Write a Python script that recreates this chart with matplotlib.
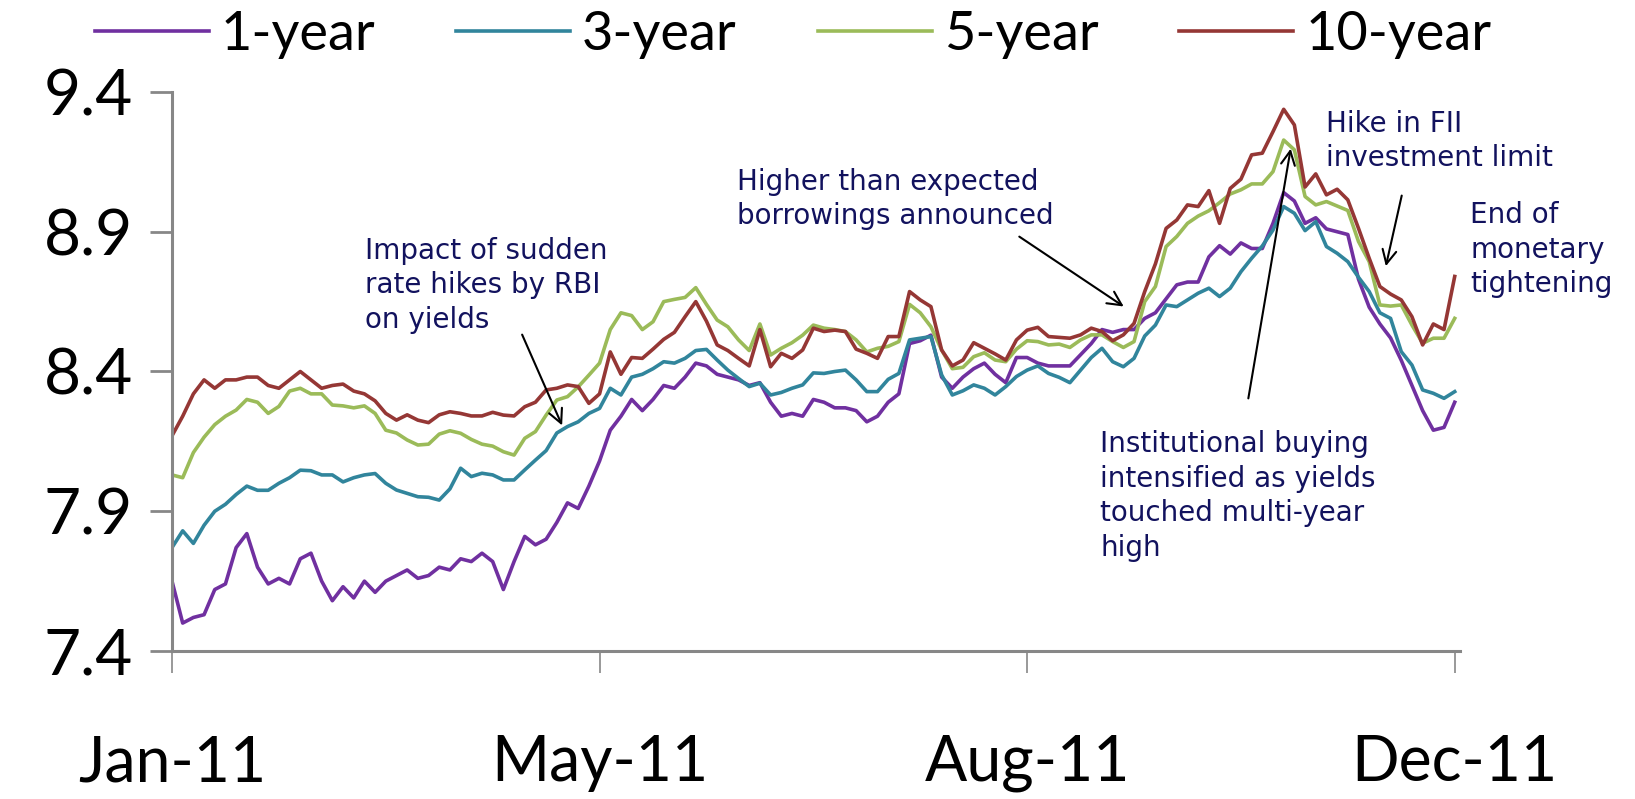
import numpy as np
import matplotlib.pyplot as plt

# trading-day index (every 2nd day), Jan-11 .. Dec-11
days = np.arange(0, 241, 2)

one_year = [7.65, 7.50, 7.52, 7.53, 7.62, 7.64, 7.77, 7.82, 7.70, 7.64,
            7.66, 7.64, 7.73, 7.75, 7.65, 7.58, 7.63, 7.59, 7.65, 7.61,
            7.65, 7.67, 7.69, 7.66, 7.67, 7.70, 7.69, 7.73, 7.72, 7.75,
            7.72, 7.62, 7.72, 7.81, 7.78, 7.80, 7.86, 7.93, 7.91, 7.99,
            8.08, 8.19, 8.24, 8.30, 8.26, 8.30, 8.35, 8.34, 8.38, 8.43,
            8.42, 8.39, 8.38, 8.37, 8.35, 8.36, 8.29, 8.24, 8.25, 8.24,
            8.30, 8.29, 8.27, 8.27, 8.26, 8.22, 8.24, 8.29, 8.32, 8.50,
            8.51, 8.53, 8.38, 8.34, 8.38, 8.41, 8.43, 8.39, 8.36, 8.45,
            8.45, 8.43, 8.42, 8.42, 8.42, 8.46, 8.50, 8.55, 8.54, 8.55,
            8.55, 8.59, 8.61, 8.66, 8.71, 8.72, 8.72, 8.81, 8.85, 8.82,
            8.86, 8.84, 8.84, 8.93, 9.04, 9.01, 8.93, 8.95, 8.91, 8.90,
            8.89, 8.73, 8.63, 8.57, 8.52, 8.44, 8.35, 8.26, 8.19, 8.20,
            8.29]

three_year = [7.77, 7.83, 7.785, 7.85, 7.90, 7.925, 7.96, 7.99, 7.975, 7.975,
              8.00, 8.02, 8.047, 8.045, 8.03, 8.03, 8.005, 8.02, 8.03, 8.035,
              8.00, 7.976, 7.964, 7.952, 7.95, 7.94, 7.98, 8.054, 8.024, 8.036,
              8.03, 8.012, 8.012, 8.048, 8.083, 8.117, 8.18, 8.203, 8.22, 8.25,
              8.268, 8.34, 8.316, 8.38, 8.39, 8.41, 8.435, 8.43, 8.447, 8.475,
              8.479, 8.441, 8.405, 8.375, 8.346, 8.358, 8.316, 8.325, 8.34, 8.352,
              8.395, 8.393, 8.40, 8.405, 8.37, 8.328, 8.328, 8.372, 8.393, 8.513,
              8.519, 8.525, 8.388, 8.316, 8.331, 8.352, 8.34, 8.316, 8.346, 8.382,
              8.405, 8.42, 8.393, 8.379, 8.36, 8.405, 8.45, 8.483, 8.435, 8.417,
              8.447, 8.527, 8.566, 8.638, 8.632, 8.656, 8.68, 8.698, 8.668, 8.698,
              8.757, 8.805, 8.849, 8.906, 8.99, 8.966, 8.904, 8.936, 8.847, 8.823,
              8.793, 8.737, 8.686, 8.61, 8.59, 8.471, 8.423, 8.334, 8.322, 8.304,
              8.328]

five_year = [8.03, 8.02, 8.11, 8.165, 8.21, 8.24, 8.262, 8.30, 8.29, 8.25,
             8.275, 8.33, 8.34, 8.32, 8.32, 8.28, 8.277, 8.27, 8.277, 8.25,
             8.19, 8.18, 8.155, 8.137, 8.14, 8.176, 8.188, 8.179, 8.157, 8.14,
             8.133, 8.113, 8.101, 8.161, 8.185, 8.244, 8.298, 8.31, 8.345, 8.387,
             8.43, 8.55, 8.61, 8.60, 8.55, 8.578, 8.65, 8.658, 8.665, 8.70,
             8.64, 8.584, 8.56, 8.513, 8.475, 8.57, 8.459, 8.483, 8.503, 8.53,
             8.566, 8.555, 8.55, 8.543, 8.513, 8.47, 8.483, 8.49, 8.507, 8.64,
             8.61, 8.56, 8.477, 8.41, 8.415, 8.453, 8.467, 8.441, 8.435, 8.48,
             8.51, 8.507, 8.495, 8.498, 8.486, 8.513, 8.531, 8.531, 8.507, 8.486,
             8.507, 8.65, 8.704, 8.847, 8.883, 8.93, 8.956, 8.975, 9.004, 9.035,
             9.05, 9.071, 9.071, 9.115, 9.228, 9.193, 9.026, 8.996, 9.008, 8.992,
             8.976, 8.865, 8.793, 8.638, 8.634, 8.638, 8.566, 8.501, 8.519, 8.519,
             8.59]

ten_year = [8.17, 8.24, 8.32, 8.37, 8.34, 8.37, 8.37, 8.38, 8.38, 8.35,
            8.34, 8.37, 8.40, 8.37, 8.34, 8.35, 8.355, 8.33, 8.32, 8.295,
            8.25, 8.226, 8.245, 8.226, 8.217, 8.245, 8.256, 8.25, 8.241, 8.241,
            8.254, 8.244, 8.241, 8.274, 8.29, 8.334, 8.34, 8.352, 8.346, 8.286,
            8.32, 8.47, 8.39, 8.45, 8.447, 8.48, 8.515, 8.54, 8.596, 8.65,
            8.58, 8.495, 8.475, 8.447, 8.42, 8.55, 8.417, 8.465, 8.447, 8.477,
            8.555, 8.543, 8.548, 8.543, 8.48, 8.465, 8.447, 8.525, 8.525, 8.686,
            8.656, 8.632, 8.477, 8.42, 8.441, 8.503, 8.483, 8.463, 8.441, 8.513,
            8.548, 8.558, 8.525, 8.522, 8.519, 8.531, 8.555, 8.543, 8.51, 8.531,
            8.572, 8.686, 8.785, 8.912, 8.942, 8.996, 8.99, 9.047, 8.93, 9.055,
            9.088, 9.175, 9.181, 9.258, 9.338, 9.282, 9.06, 9.107, 9.032, 9.052,
            9.014, 8.912, 8.805, 8.704, 8.677, 8.656, 8.596, 8.495, 8.57, 8.55,
            8.74]

series_names = ["1-year", "3-year", "5-year", "10-year"]
colors = ["#7030A0", "#31859C", "#9BBB59", "#953735"]

tick_pos = [0, 80, 160, 240]
tick_labels = ["Jan-11", "May-11", "Aug-11", "Dec-11"]
y_ticks = [7.4, 7.9, 8.4, 8.9, 9.4]

navy = "#12125E"
axis_grey = "#878787"

fig = plt.figure(figsize=(16.35, 7.99), dpi=100)
ax = fig.add_axes([0.1052, 0.1852, 0.7878, 0.6997])

for vals, name, c in zip([one_year, three_year, five_year, ten_year], series_names, colors):
    ax.plot(days, vals, color=c, lw=2.6, label=name)

ax.set_xlim(0, 241)
ax.set_ylim(7.4, 9.4)
ax.set_yticks(y_ticks)
ax.set_yticklabels([f"{v:.1f}" for v in y_ticks], fontsize=46, family="Lato")
ax.set_xticks(tick_pos)
ax.set_xticklabels(tick_labels, fontsize=45, family="Lato")

for side in ["top", "right"]:
    ax.spines[side].set_visible(False)
for side in ["left", "bottom"]:
    ax.spines[side].set_color(axis_grey)
    ax.spines[side].set_linewidth(2.2)

ax.tick_params(axis="y", length=16, width=2, color=axis_grey, pad=12)
ax.tick_params(axis="x", length=16, width=1.2, color=axis_grey, pad=44)

# legend across the top
fig.legend(loc="center", bbox_to_anchor=(0.485, 0.957), ncol=4, frameon=False,
           prop={"family": "Lato", "size": 39}, handlelength=2.1,
           handletextpad=0.22, columnspacing=1.5)

# annotations
txt = dict(color=navy, fontsize=20, linespacing=1.3, ha="left", va="center")
arrow = dict(arrowstyle="->", color="black", lw=1.5, mutation_scale=25)

ax.text(36.1, 8.709, "Impact of sudden\nrate hikes by RBI\non yields", **txt)
ax.annotate("", xy=(73.2, 8.198), xytext=(65.3, 8.541), arrowprops=arrow)

ax.text(105.7, 9.017, "Higher than expected\nborrowings announced", **txt)
ax.annotate("", xy=(178.5, 8.627), xytext=(158.1, 8.888), arrowprops=arrow)

ax.text(215.9, 9.225, "Hike in FII\ninvestment limit", **txt)
ax.annotate("", xy=(227.0, 8.767), xytext=(230.2, 9.039), arrowprops=arrow)

ax.text(242.9, 8.835, "End of\nmonetary\ntightening", **txt)

ax.text(173.7, 7.955, "Institutional buying\nintensified as yields\ntouched multi-year\nhigh", **txt)
ax.annotate("", xy=(209.4, 9.207), xytext=(201.3, 8.294), arrowprops=arrow)

fig.savefig("out.png", dpi=100)
